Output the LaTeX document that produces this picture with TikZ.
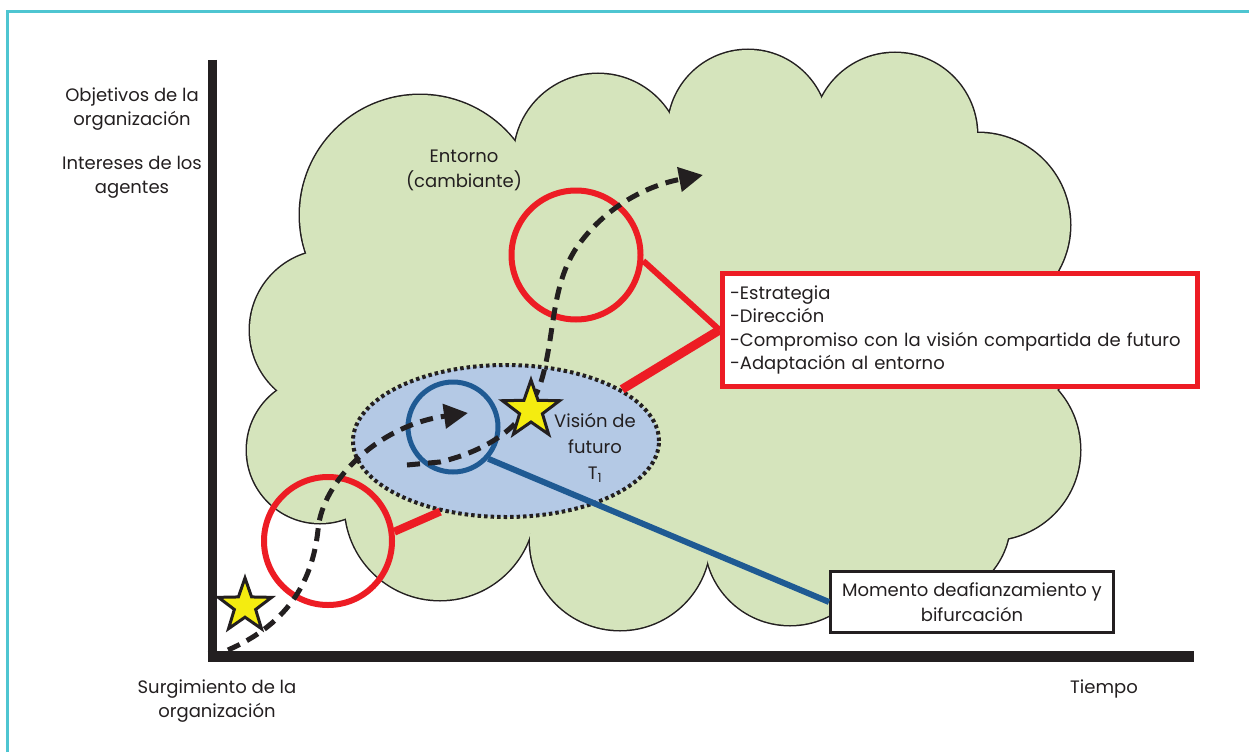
\documentclass[tikz,border=0pt]{standalone}
\usepackage{fontspec}
\setmainfont{Poppins}
\usetikzlibrary{shapes.geometric,arrows.meta,positioning}
\definecolor{framecyan}{HTML}{4EC5D1}
\definecolor{cloudgreen}{HTML}{D5E4BC}
\definecolor{visionblue}{HTML}{B4C9E5}
\definecolor{ringred}{HTML}{ED1C24}
\definecolor{ringblue}{HTML}{1F5A93}
\definecolor{staryellow}{HTML}{F4EC10}
\definecolor{ink}{HTML}{231F20}
\tikzset{
  lbl/.style={font=\fontsize{18}{24}\selectfont, text=ink, align=center, inner sep=0pt},
  ring/.style={circle, draw=ringred, line width=6pt, inner sep=0pt},
  path/.style={ink, line width=5pt, dash pattern=on 13pt off 8pt, -{Triangle[length=24pt,width=24pt]}},
  hito/.style={star, star points=5, star point ratio=2.5, fill=staryellow, draw=ink, line width=3pt, inner sep=0pt}
}
\begin{document}
\begin{tikzpicture}[x=1pt,y=-1pt]
\useasboundingbox (0,0) rectangle (1249,752);
\fill[white] (0,0) rectangle (1249,752);
\draw[framecyan, line width=3pt] (7.5,752) -- (7.5,11.5) -- (1249,11.5);

% entorno (nube)
\foreach \cx/\cy/\r in {420/215/120, 598/158/84, 748/130/80, 895/135/82, 978/225/92, 990/330/90,
  990/450/90, 930/520/80, 790/540/85, 620/540/90, 440/505/95, 320/450/73, 330/330/80}
  \draw[ink, line width=3pt] (\cx,\cy) circle[radius=\r pt];
\fill[cloudgreen] (420,215) -- (598,158) -- (748,130) -- (895,135) -- (978,225) -- (990,330)
  -- (990,450) -- (930,520) -- (790,540) -- (620,540) -- (440,505) -- (320,450) -- (330,330) -- cycle;
\foreach \cx/\cy/\r in {420/215/120, 598/158/84, 748/130/80, 895/135/82, 978/225/92, 990/330/90,
  990/450/90, 930/520/80, 790/540/85, 620/540/90, 440/505/95, 320/450/73, 330/330/80}
  \fill[cloudgreen] (\cx,\cy) circle[radius=\r pt];

% ejes
\coordinate (origen) at (212,656);
\draw[ink, line width=9pt] (212,60) -- (origen |- 0,661);
\draw[ink, line width=11pt] (207.5,656) -- (1194,656);

% vision de futuro
\node[ellipse, fill=visionblue, draw=ink, line width=4pt, dash pattern=on 3.5pt off 3pt,
  minimum width=306pt, minimum height=152pt, inner sep=0pt] (vision) at (506,441) {};

% cajas
\node[draw=ringred, line width=5pt, fill=white, text width=459pt, inner xsep=8pt,
  minimum height=113pt, align=left, font=\fontsize{18}{23.5}\selectfont, text=ink] (claves) at (959.5,330)
  {-Estrategia\\-Dirección\\-Compromiso con la visión compartida de futuro\\-Adaptación al entorno};
\node[draw=ink, line width=3pt, fill=white, minimum width=283pt, minimum height=61pt,
  lbl, font=\fontsize{18}{25}\selectfont] (momento) at (972,602)
  {Momento deafianzamiento y\\bifurcación};

% lupas
\node[ring, minimum size=129pt] (lupaA) at (576,255) {};
\node[ring, minimum size=128pt] (lupaB) at (328,541) {};
\node[circle, draw=ringblue, line width=5pt, inner sep=0pt, minimum size=90pt] (lupaC) at (453,427) {};

\draw[ringred, line width=6pt] (lupaA.-5) -- (claves.west);
\draw[ringred, line width=9pt] (claves.west) -- (vision.24);
\draw[ringred, line width=8pt] (lupaB.8) -- (vision.227);
\draw[ringblue, line width=6pt] (lupaC.-42) -- (momento.west);

% trayectorias
\coordinate (ini) at (228,650);
\coordinate (finA) at (468,413);
\coordinate (iniB) at (407,465);
\coordinate (finB) at (703,175);
\draw[path] (ini) .. controls (285,625) and (312,585) .. (318,530)
  .. controls (322,480) and (380,425) .. (finA);
\draw[path] (iniB) -- (440,462) .. controls (490,450) and (525,425) .. (540,385)
  .. controls (555,340) and (550,290) .. (575,250) .. controls (605,205) and (650,185) .. (finB);

% hitos
\node[hito, minimum size=56pt] (surge) at (245,606) {};
\node[hito, minimum size=60pt] (afianza) at (531,410) {};

% textos
\node[lbl] (objetivos) at (132,109) {Objetivos de la\\organización};
\node[lbl] (intereses) at (132,177) {Intereses de los\\agentes};
\node[lbl] (surgimiento) at (217,701) {Surgimiento de la\\organización};
\node[lbl] (tiempo) at (1104,689) {Tiempo};
\node[lbl, font=\fontsize{18}{25}\selectfont] (entorno) at (464,170) {Entorno\\(cambiante)};
\node[lbl, font=\fontsize{18}{26}\selectfont] (futuro) at (595,448) {Visión de\\futuro\\T\textsubscript{1}};
\end{tikzpicture}
\end{document}
